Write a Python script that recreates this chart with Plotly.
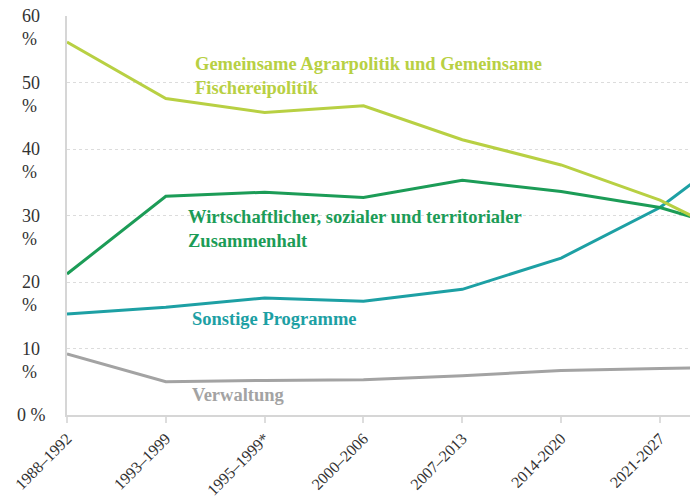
import plotly.graph_objects as go

categories = ["1988–1992", "1993–1999", "1995–1999*", "2000–2006", "2007–2013", "2014-2020", "2021-2027", "2028-2034"]
x_idx = list(range(len(categories)))

agrar = [56.1, 47.6, 45.5, 46.5, 41.4, 37.6, 32.3, 25.0]
kohaesion = [21.2, 32.9, 33.5, 32.7, 35.3, 33.6, 31.2, 26.8]
sonstige = [15.2, 16.2, 17.6, 17.1, 18.9, 23.6, 31.2, 42.4]
verwaltung = [9.2, 5.0, 5.2, 5.3, 5.9, 6.7, 7.0, 7.2]

y_ticks = [0, 10, 20, 30, 40, 50, 60]
y_ticktext = ["0 %", "10<br>%", "20<br>%", "30<br>%", "40<br>%", "50<br>%", "60<br>%"]

C_AGRAR = "#b8d043"
C_KOH = "#1c9c57"
C_SONST = "#1da0a4"
C_VERW = "#a3a3a3"

SERIF = "Tinos"

fig = go.Figure()
for vals, col in [(verwaltung, C_VERW), (sonstige, C_SONST), (kohaesion, C_KOH), (agrar, C_AGRAR)]:
    fig.add_trace(go.Scatter(x=x_idx, y=vals, mode="lines",
                             line=dict(color=col, width=3), hoverinfo="skip", showlegend=False))

labels = [
    ("<b>Gemeinsame Agrarpolitik und Gemeinsame<br>Fischereipolitik</b>", 1.27, 51.0, C_AGRAR),
    ("<b>Wirtschaftlicher, sozialer und territorialer<br>Zusammenhalt</b>", 1.2, 28.0, C_KOH),
    ("<b>Sonstige Programme</b>", 1.24, 14.4, C_SONST),
    ("<b>Verwaltung</b>", 1.24, 3.0, C_VERW),
]
for txt, xx, yy, col in labels:
    fig.add_annotation(x=xx, y=yy, text=txt, showarrow=False, xanchor="left", yanchor="middle",
                       align="left", font=dict(family=SERIF, size=18.5, color=col))

# y tick labels as annotations (number on gridline, % below)
for v, t in zip(y_ticks, y_ticktext):
    if v == 0:
        fig.add_annotation(x=0, xref="paper", xshift=-52, y=v, yref="y", text=t, showarrow=False,
                           xanchor="left", yanchor="middle", font=dict(family=SERIF, size=18, color="#333333"))
    else:
        fig.add_annotation(x=0, xref="paper", xshift=-47, y=v, yref="y", yshift=12, text=t,
                           showarrow=False, xanchor="left", yanchor="top", align="left",
                           font=dict(family=SERIF, size=18, color="#333333"))

# the page body has an 8px margin: plot area placed accordingly
fig.update_layout(
    width=690, height=493,
    margin=dict(l=59, r=0, t=8, b=86, autoexpand=False),
    paper_bgcolor="white", plot_bgcolor="white",
    font=dict(family=SERIF, color="#333333"),
)
fig.update_xaxes(
    range=[0, 6.385], automargin=False,
    tickmode="array", tickvals=x_idx[:7], ticktext=categories[:7],
    tickangle=-45, tickfont=dict(family=SERIF, size=16, color="#333333"),
    showgrid=False, zeroline=False,
    showline=True, linecolor="#d6d6d6", linewidth=2,
    ticks="outside", ticklen=6, tickcolor="#dddddd", tickwidth=2,
)
fig.update_yaxes(
    range=[0, 60], automargin=False,
    tickmode="array", tickvals=y_ticks, showticklabels=False,
    showgrid=True, gridcolor="#dcdcdc", griddash="dot", gridwidth=1,
    zeroline=False,
    showline=True, linecolor="#d6d6d6", linewidth=2,
)

fig.write_html("out.html")
